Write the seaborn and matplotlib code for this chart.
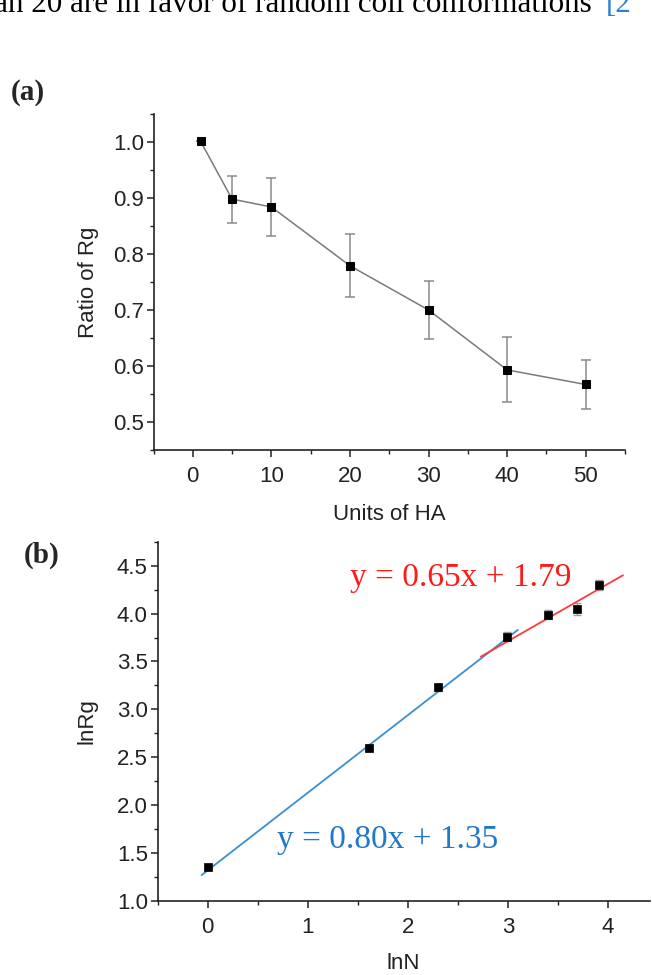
import numpy as np
import pandas as pd
import matplotlib
matplotlib.use("Agg")
import matplotlib.pyplot as plt
import seaborn as sns
from matplotlib.ticker import MultipleLocator

# ---------------- data ----------------
# panel (a)
units_ha = [1, 5, 10, 20, 30, 40, 50]
ratio_rg = [1.001, 0.898, 0.884, 0.779, 0.700, 0.593, 0.567]
ratio_err = [0.0, 0.042, 0.052, 0.056, 0.051, 0.058, 0.043]

# panel (b)
ln_n = [0.0, 1.609, 2.303, 2.996, 3.401, 3.689, 3.912]
ln_rg = [1.36, 2.60, 3.23, 3.76, 3.99, 4.05, 4.30]
ln_rg_err = [0.02, 0.03, 0.04, 0.05, 0.05, 0.06, 0.05]

blue_fit_x = [-0.06, 3.10]
blue_fit_y = [1.27, 3.83]
red_fit_x = [2.73, 4.15]
red_fit_y = [3.55, 4.40]

blue_eq = "y = 0.80x + 1.35"
red_eq = "y = 0.65x + 1.79"

page_text = "than 20 are in favor of random coil conformations"
page_ref = "[2"

# ---------------- style ----------------
sns.set_theme(style="ticks")
plt.rcParams['font.family'] = ['Liberation Sans', 'DejaVu Sans']
plt.rcParams['axes.linewidth'] = 1.2

W, H = 652, 975
fig = plt.figure(figsize=(W / 100, H / 100), dpi=100)
fig.patch.set_facecolor("white")

def px_axes(left, top, right, bottom):
    return fig.add_axes([left / W, 1 - bottom / H, (right - left) / W, (bottom - top) / H])

tick_color = "#222222"
FS = 16

def style_axes(ax):
    sns.despine(ax=ax)
    for s in ("left", "bottom"):
        ax.spines[s].set_color("#222222")
    ax.tick_params(which="major", direction="out", length=5, width=1.1,
                   labelsize=FS, colors=tick_color)
    ax.tick_params(axis="x", which="major", pad=6.5)
    ax.tick_params(axis="y", which="major", pad=2)
    ax.tick_params(which="minor", direction="out", length=3, width=1.0, colors=tick_color)
    ax.set_facecolor("white")

# ---------------- panel (a) ----------------
axa = px_axes(153.5, 114, 625, 450)
dfa = pd.DataFrame({"units": units_ha, "ratio": ratio_rg, "err": ratio_err})
axa.errorbar(dfa["units"], dfa["ratio"], yerr=dfa["err"], fmt="none",
             ecolor="#8a8a8a", elinewidth=1.1, capsize=3.5, capthick=1.1, zorder=2)
sns.lineplot(data=dfa, x="units", y="ratio", ax=axa, color="#7a7a7a", linewidth=1.1,
             marker="s", markersize=5.6, markerfacecolor="black", markeredgecolor="black",
             zorder=3)
axa.set_xlim(-5, 55)
axa.set_ylim(0.45, 1.05)
axa.set_xticks([0, 10, 20, 30, 40, 50])
axa.xaxis.set_minor_locator(MultipleLocator(5))
axa.set_yticks([0.5, 0.6, 0.7, 0.8, 0.9, 1.0])
axa.set_yticklabels(["0.5", "0.6", "0.7", "0.8", "0.9", "1.0"])
axa.yaxis.set_minor_locator(MultipleLocator(0.05))
style_axes(axa)
axa.set_xlabel("Units of HA", fontsize=FS, color=tick_color, labelpad=12)
axa.set_ylabel("Ratio of Rg", fontsize=FS, color=tick_color, labelpad=10)

# ---------------- panel (b) ----------------
axb = px_axes(157.5, 541.7, 650, 901)
dfb = pd.DataFrame({"lnN": ln_n, "lnRg": ln_rg, "err": ln_rg_err})
axb.errorbar(dfb["lnN"], dfb["lnRg"], yerr=dfb["err"], fmt="none",
             ecolor="#9a9a9a", elinewidth=1.0, capsize=3, capthick=1.0, zorder=2)
sns.lineplot(x=blue_fit_x, y=blue_fit_y, ax=axb, color="#3a8fd4", linewidth=1.3, zorder=3)
sns.lineplot(x=red_fit_x, y=red_fit_y, ax=axb, color="#ff3b3b", linewidth=1.3, zorder=3)
sns.scatterplot(data=dfb, x="lnN", y="lnRg", ax=axb, marker="s", s=36,
                color="black", edgecolor="black", linewidth=0.5, zorder=4)
axb.set_xlim(-0.5, 4.42)
axb.set_ylim(1.0, 4.75)
axb.set_xticks([0, 1, 2, 3, 4])
axb.xaxis.set_minor_locator(MultipleLocator(0.5))
axb.set_yticks([1.0, 1.5, 2.0, 2.5, 3.0, 3.5, 4.0, 4.5])
axb.set_yticklabels(["1.0", "1.5", "2.0", "2.5", "3.0", "3.5", "4.0", "4.5"])
axb.yaxis.set_minor_locator(MultipleLocator(0.25))
style_axes(axb)
axb.set_xlabel("lnN", fontsize=FS, color=tick_color, labelpad=11)
axb.set_ylabel("lnRg", fontsize=FS, color=tick_color, labelpad=14)

serif = ['Liberation Serif', 'DejaVu Serif']
axb.text(0.69, 1.64, blue_eq, color="#1f78c8", fontsize=24, family=serif,
         ha="left", va="center")
axb.text(1.42, 4.37, red_eq, color="#ff1a1a", fontsize=24, family=serif,
         ha="left", va="center")

# ---------------- page decorations ----------------
fig.text(11 / W, 1 - 93 / H, "(a)", fontsize=21, fontweight="bold", family=serif,
         ha="left", va="center")
fig.text(24 / W, 1 - 555 / H, "(b)", fontsize=21, fontweight="bold", family=serif,
         ha="left", va="center")
fig.text(592 / W, 1 - 12 / H, page_text, fontsize=22.4, family=serif, ha="right",
         va="baseline", color="black")
fig.text(606 / W, 1 - 12 / H, page_ref, fontsize=22.4, family=serif, ha="left",
         va="baseline", color="#2a7fd4")

fig.savefig("out.png", dpi=100, facecolor="white")
